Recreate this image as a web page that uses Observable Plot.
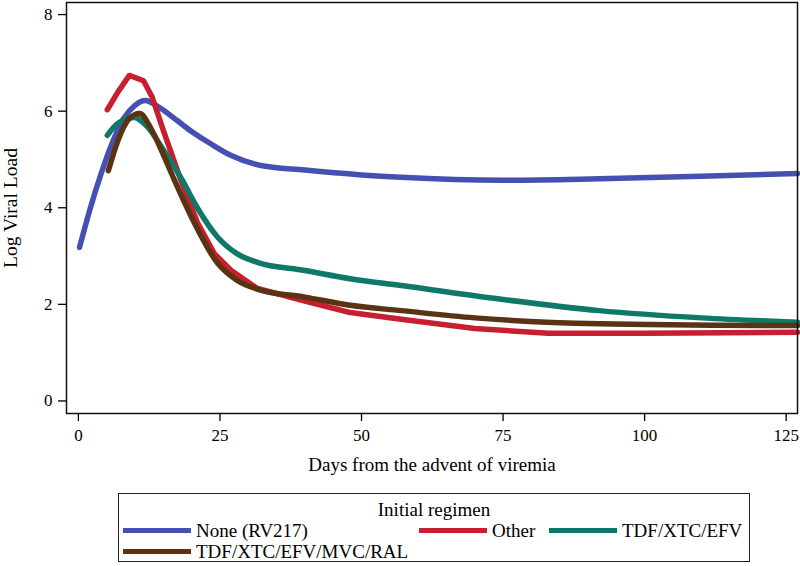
<!DOCTYPE html>
<html>
<head>
<meta charset="utf-8">
<script src="https://cdn.jsdelivr.net/npm/d3@7"></script>
<script src="https://cdn.jsdelivr.net/npm/@observablehq/plot@0.6"></script>
<style>
  html, body { margin: 0; padding: 0; background: #fff; }
  body { width: 800px; height: 566px; overflow: hidden; font-family: "Liberation Serif", "Times New Roman", serif; color: #000; }
  #wrap { position: relative; width: 800px; height: 566px; }
  #legend { position: absolute; left: 118px; top: 493px; width: 632px; height: 69px; border: 1.6px solid #222; box-sizing: border-box; }
  .lt { position: absolute; font-size: 19px; line-height: 1; white-space: nowrap; }
  .sw { position: absolute; height: 5px; width: 68px; }
</style>
</head>
<body>
<div id="wrap">
  <div id="chart"></div>
  <div id="legend"></div>
</div>
<script>
// Series names and colours
const groups = ["None (RV217)", "Other", "TDF/XTC/EFV", "TDF/XTC/EFV/MVC/RAL"];
const colors = ["#4650b2", "#c71f2f", "#0f7868", "#5a3412"];

// None (RV217)
const noneDays = [0.2, 2, 4, 6, 8, 10, 11.8, 14, 17.5, 20, 23.3, 27, 32, 40, 50, 57, 75, 92, 110, 127];
const noneVals = [3.18, 3.95, 4.7, 5.35, 5.85, 6.12, 6.22, 6.1, 5.8, 5.58, 5.33, 5.08, 4.88, 4.78, 4.68, 4.63, 4.57, 4.6, 4.65, 4.71];

// Other
const otherDays = [5.1, 7, 9, 11.5, 13, 15, 18, 21, 24, 27, 31.6, 40, 48, 57, 70, 83, 100, 127];
const otherVals = [6.03, 6.4, 6.74, 6.63, 6.3, 5.6, 4.6, 3.7, 3.05, 2.7, 2.33, 2.07, 1.83, 1.69, 1.5, 1.4, 1.4, 1.42];

// TDF/XTC/EFV
const tdfDays = [5.1, 7, 9.9, 12, 15, 18.4, 21, 24.6, 28, 31.6, 40, 48, 57, 75, 92, 110, 127];
const tdfVals = [5.5, 5.75, 5.87, 5.7, 5.2, 4.56, 4.0, 3.39, 3.05, 2.87, 2.7, 2.53, 2.39, 2.1, 1.87, 1.72, 1.63];

// TDF/XTC/EFV/MVC/RAL
const ralDays = [5.3, 7, 9, 10.8, 13, 15, 17, 20, 24.6, 28, 32, 40, 48, 57, 70, 92, 127];
const ralVals = [4.77, 5.4, 5.85, 5.95, 5.6, 5.1, 4.56, 3.8, 2.85, 2.5, 2.3, 2.15, 1.98, 1.87, 1.72, 1.6, 1.56];

const xTicks = [0, 25, 50, 75, 100, 125];
const yTicks = [0, 2, 4, 6, 8];

const seriesDays = [noneDays, otherDays, tdfDays, ralDays];
const seriesVals = [noneVals, otherVals, tdfVals, ralVals];
const data = groups.flatMap((g, i) => seriesDays[i].map((d, j) => ({group: g, day: d, value: seriesVals[i][j]})));

const lineOf = (g, curve) => Plot.line(data.filter(d => d.group === g), {x: "day", y: "value", stroke: "group", strokeWidth: 5.5, curve});

const plot = Plot.plot({
  width: 800,
  height: 485,
  marginLeft: 66,
  marginRight: 3,
  marginTop: 2,
  marginBottom: 72,
  style: {fontFamily: "Liberation Serif, Times New Roman, serif", fontSize: "17px", color: "#000", background: "#fff"},
  x: {domain: [-2.1, 127.0]},
  y: {domain: [-0.26, 8.25]},
  color: {domain: groups, range: colors},
  marks: [
    lineOf(groups[0], "monotone-x"),
    lineOf(groups[1], "linear"),
    lineOf(groups[2], "monotone-x"),
    lineOf(groups[3], "monotone-x"),
    Plot.frame({stroke: "#111", strokeWidth: 1.5}),
    Plot.axisX({ticks: xTicks, tickSize: 8, tickPadding: 7, label: null, fontSize: 17, strokeWidth: 1.3}),
    Plot.axisY({ticks: yTicks, tickSize: 8, tickPadding: 6, label: null, fontSize: 17, strokeWidth: 1.3}),
    Plot.text(["Log Viral Load"], {frameAnchor: "left", textAnchor: "middle", dx: -56, rotate: -90, fontSize: 19.5, fill: "#000"}),
    Plot.text(["Days from the advent of viremia"], {frameAnchor: "bottom", textAnchor: "middle", dy: 57, fontSize: 19, fill: "#000"})
  ]
});
document.getElementById("chart").appendChild(plot);

// Legend (HTML, below the SVG)
const legend = document.getElementById("legend");
const title = document.createElement("div");
title.className = "lt";
title.textContent = "Initial regimen";
title.style.left = "0px"; title.style.width = "100%"; title.style.textAlign = "center"; title.style.top = "6px";
legend.appendChild(title);
const pos = [[4, 37], [300, 37], [430, 37], [4, 58]];
groups.forEach((g, i) => {
  const sw = document.createElement("div");
  sw.className = "sw";
  sw.style.background = colors[i];
  sw.style.left = pos[i][0] + "px";
  sw.style.top = (pos[i][1] - 3) + "px";
  legend.appendChild(sw);
  const t = document.createElement("div");
  t.className = "lt";
  t.textContent = g;
  t.style.left = (pos[i][0] + 73) + "px";
  t.style.top = (pos[i][1] - 10) + "px";
  legend.appendChild(t);
});
</script>
</body>
</html>
